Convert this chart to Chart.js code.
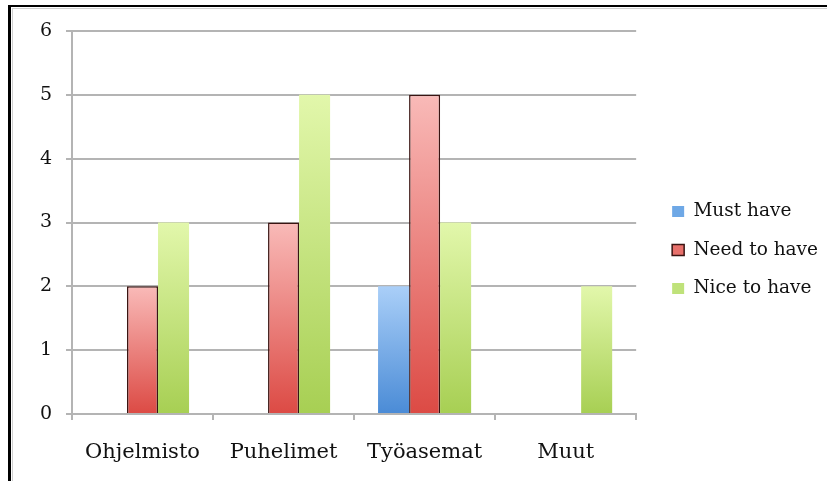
<!DOCTYPE html>
<html>
<head>
<meta charset="utf-8">
<script src="https://cdn.jsdelivr.net/npm/chart.js@4/dist/chart.umd.min.js"></script>
<style>
  html, body { margin: 0; padding: 0; background: #fff; }
  #wrap { position: relative; width: 827px; height: 481px; overflow: hidden; }
  #chart { position: absolute; left: 0; top: 0; }
  #frame {
    position: absolute; left: 8px; top: 5px; right: -10px; bottom: -10px;
    border-top: 2px solid #000; border-left: 3px solid #000; pointer-events: none;
  }
  #frame::after {
    content: ""; position: absolute; left: 1px; top: 1px; right: 0; bottom: 0;
    border-top: 1px solid #d0d0d0; border-left: 1px solid #d0d0d0;
  }
</style>
</head>
<body>
<div id="wrap">
  <canvas id="chart" width="827" height="481"></canvas>
  <div id="frame"></div>
</div>
<script>
const categories = ['Ohjelmisto', 'Puhelimet', 'Työasemat', 'Muut'];
const mustHave = [0, 0, 2, 0];
const needToHave = [2, 3, 5, 0];
const niceToHave = [3, 5, 3, 2];
const yTicks = [0, 1, 2, 3, 4, 5, 6];

const FONT = "'DejaVu Serif', serif";
const TEXT = '#111';
const GRID = '#b4b4b4';

// Vertical gradient per bar, from the bar top down to the zero line
function barGradient(light, dark, solid) {
  return (ctx) => {
    const chart = ctx.chart;
    if (!chart.chartArea || ctx.type !== 'data') return solid;
    const y = chart.scales.y;
    const top = y.getPixelForValue(ctx.raw);
    const base = y.getPixelForValue(0);
    if (!isFinite(top) || Math.abs(base - top) < 1) return solid;
    const g = chart.ctx.createLinearGradient(0, top, 0, base);
    g.addColorStop(0, light);
    g.addColorStop(1, dark);
    return g;
  };
}

// Nudges the legend block sideways / vertically inside its layout box
const legendNudge = {
  id: 'legendNudge',
  afterLayout(chart, args, opts) {
    const lg = chart.legend;
    if (!lg) return;
    lg.left += opts.dx; lg.right += opts.dx;
    lg.top += opts.dy; lg.bottom += opts.dy;
  }
};

new Chart(document.getElementById('chart'), {
  type: 'bar',
  data: {
    labels: categories,
    datasets: [
      {
        label: 'Must have',
        data: mustHave,
        backgroundColor: barGradient('#aacff8', '#4a8bd6', '#6ea8e6'),
        borderWidth: 0
      },
      {
        label: 'Need to have',
        data: needToHave,
        backgroundColor: barGradient('#f9bab8', '#dc4a44', '#e8706b'),
        borderColor: '#3a1412',
        borderWidth: (ctx) => (ctx.raw ? 1.5 : 0)
      },
      {
        label: 'Nice to have',
        data: niceToHave,
        backgroundColor: barGradient('#e2f7ab', '#a7cf53', '#bfe27a'),
        borderWidth: 0
      }
    ]
  },
  options: {
    responsive: false,
    animation: false,
    layout: { padding: { top: 31, left: 0, right: 15, bottom: 0 } },
    datasets: {
      bar: { barPercentage: 1.0, categoryPercentage: 0.66 }
    },
    scales: {
      x: {
        offset: true,
        grid: {
          display: true, drawOnChartArea: false, drawTicks: true,
          tickLength: 6, color: GRID, lineWidth: 2
        },
        border: { display: true, color: GRID, width: 2 },
        ticks: { color: TEXT, font: { family: FONT, size: 21 }, padding: 20 },
        afterFit: (s) => { s.height = 67; }
      },
      y: {
        min: 0, max: 6,
        afterBuildTicks: (s) => { s.ticks = yTicks.map(v => ({ value: v })); },
        grid: { color: GRID, lineWidth: 2, tickLength: 6 },
        border: { display: true, color: GRID, width: 2 },
        ticks: { color: TEXT, font: { family: FONT, size: 19 }, padding: 14 },
        afterFit: (s) => { s.width = 72; }
      }
    },
    plugins: {
      legend: {
        position: 'right',
        align: 'center',
        labels: {
          color: TEXT,
          font: { family: FONT, size: 18.5 },
          boxWidth: 12,
          boxHeight: 11,
          padding: 20,
          generateLabels: (chart) => {
            const solid = ['#6ea8e6', '#e8706b', '#bfe27a'];
            return chart.data.datasets.map((ds, i) => ({
              text: ds.label,
              fillStyle: solid[i],
              strokeStyle: i === 1 ? '#3a1412' : solid[i],
              lineWidth: i === 1 ? 1.5 : 0,
              fontColor: TEXT,
              datasetIndex: i,
              hidden: false
            }));
          }
        }
      },
      legendNudge: { dx: 16, dy: -6 },
      tooltip: { enabled: false }
    }
  },
  plugins: [legendNudge]
});
</script>
</body>
</html>
